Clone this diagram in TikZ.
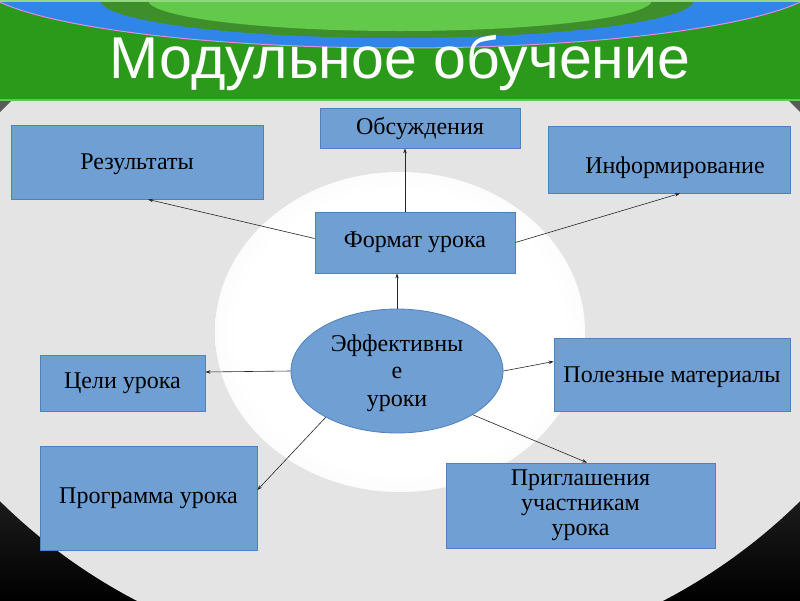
\documentclass[tikz,border=0pt]{standalone}
\usepackage{fontspec}
\setmainfont{Liberation Serif}
\newfontfamily\titlefont{Liberation Sans}
\usetikzlibrary{arrows.meta,calc,shapes.geometric}
\definecolor{boxfill}{HTML}{709FD3}
\definecolor{boxline}{HTML}{4F81BD}
\definecolor{bggray}{HTML}{E4E4E4}
\definecolor{hdrgreen}{HTML}{2B9A1B}
\definecolor{blueband}{HTML}{2F86E8}
\definecolor{darkgreen}{HTML}{3F8E2C}
\definecolor{lightgreen}{HTML}{62C94A}
\definecolor{pinkline}{HTML}{E08CE0}
\definecolor{cornergray}{HTML}{8A8A8A}
\pgfdeclareradialshading{glow}{\pgfpoint{0bp}{0bp}}{color(0bp)=(white); color(22bp)=(white); color(50bp)=(bggray)}
\tikzset{
  box/.style={draw=boxline, fill=boxfill, line width=0.8pt, inner sep=0pt, align=center, font=\fontsize{24}{27.5}\selectfont},
  conn/.style={draw=black!85, line width=0.6pt, -{Stealth[length=5pt,width=3.5pt]}},
  lbl/.style={font=\fontsize{24}{27.5}\selectfont, inner sep=0pt}
}
\begin{document}
\begin{tikzpicture}[x=1pt,y=-1pt]
\useasboundingbox (0,0) rectangle (800,600);
% background
\shade[top color=cornergray, bottom color=black] (0,100) rectangle (800,600);
\begin{scope}
  \clip (0,100) rectangle (800,600);
  \fill[bggray] (400,95) circle (570pt);
\end{scope}
\fill[black!65] (0,100) -- (12,100) -- (0,112) -- cycle;
\fill[black!65] (800,100) -- (788,100) -- (800,112) -- cycle;
\shade[shading=glow] (400,332) ellipse (185pt and 160pt);
% header
\fill[hdrgreen] (0,0) rectangle (800,101);
\fill[green!60!black!60!white] (0,99) rectangle (800,101);
\begin{scope}
  \clip (0,0) rectangle (800,101);
  \fill[blueband, draw=pinkline, line width=1pt] (400,-20) ellipse (423pt and 68pt);
  \fill[darkgreen] (397,0) ellipse (297pt and 38pt);
  \fill[lightgreen] (400,0) ellipse (252pt and 31pt);
\end{scope}
\fill[lightgreen!70!white] (0,0) rectangle (800,2);
\node[font=\titlefont\fontsize{59}{60}\selectfont, text=white, anchor=base, inner sep=0pt] (title) at (400,78) {Модульное обучение};
% nodes
\node[box, minimum width=252pt, minimum height=74pt, label={[lbl, yshift=-2pt]center:Результаты}] (res) at (137,162) {};
\node[box, minimum width=200pt, minimum height=40pt] (obs) at (420,128) {Обсуждения};
\node[box, minimum width=242pt, minimum height=67pt, label={[lbl, xshift=6pt, yshift=-8pt]center:Информирование}] (inf) at (669,159.5) {};
\node[box, minimum width=200pt, minimum height=61pt] (fmt) at (415,242.5) {Формат урока};
\node[box, ellipse, minimum width=212pt, minimum height=124pt, label={[lbl, align=center, yshift=-2pt]center:Эффективны\\е\\уроки}] (ell) at (397,371) {};
\node[box, minimum width=165pt, minimum height=56pt] (cel) at (122.5,383) {Цели урока};
\node[box, minimum width=236pt, minimum height=73pt, label={[lbl, yshift=-3pt]center:Полезные материалы}] (pol) at (672,374.5) {};
\node[box, minimum width=217pt, minimum height=104pt] (prg) at (148.5,498) {Программа урока};
\node[box, minimum width=269pt, minimum height=85pt, font=\fontsize{24}{25}\selectfont] (pri) at (580.5,505.5) {Приглашения\\участникам\\урока};
% connectors
\draw[conn] ($(fmt.north)+(-10,0)$) -- ($(obs.south)+(-15,0)$);
\draw[conn] ($(fmt.west)+(0,-4)$) -- ($(res.south)+(11,0)$);
\draw[conn] (fmt.east) -- ($(inf.south)+(11,0)$);
\draw[conn] (ell.north) -- ($(fmt.south)+(-18,0)$);
\draw[conn] (ell.west) -- ($(cel.east)+(0,-11)$);
\draw[conn] (ell.east) -- ($(pol.west)+(0,-13)$);
\draw[conn] (ell.213) -- ($(prg.east)+(0,-8)$);
\draw[conn] (ell.330) -- ($(pri.north)+(6.5,0)$);
\end{tikzpicture}
\end{document}
